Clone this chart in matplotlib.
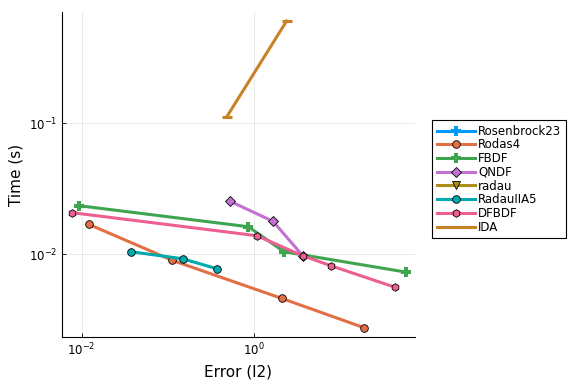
import matplotlib
matplotlib.use("Agg")
import matplotlib.pyplot as plt
import numpy as np

names = ["Rosenbrock23", "Rodas4", "FBDF", "QNDF", "radau", "RadauIIA5", "DFBDF", "IDA"]
colors = ["#009AFA", "#E36F47", "#3EA44E", "#C371D2", "#AC8E18", "#00AAAE", "#ED5E93", "#C68225"]
markers = ["P", "o", "P", "D", "v", "o", "h", "_"]

err_rosenbrock23 = []
time_rosenbrock23 = []
err_rodas4 = [0.0122, 0.112, 2.08, 18.8]
time_rodas4 = [0.0169, 0.0090, 0.00461, 0.00275]
err_fbdf = [0.00938, 0.852, 2.21, 56.8]
time_fbdf = [0.0235, 0.01625, 0.01047, 0.00732]
err_qndf = [0.519, 1.65, 3.64]
time_qndf = [0.0255, 0.01786, 0.00976]
err_radau = []
time_radau = []
err_radauiia5 = [0.0373, 0.148, 0.367]
time_radauiia5 = [0.01047, 0.00925, 0.00777]
err_dfbdf = [0.00778, 1.07, 3.64, 7.74, 42.4]
time_dfbdf = [0.0208, 0.01387, 0.00976, 0.00818, 0.00562]
err_ida = [0.479, 2.37]
time_ida = [0.112, 0.604]

errs = [err_rosenbrock23, err_rodas4, err_fbdf, err_qndf, err_radau, err_radauiia5, err_dfbdf, err_ida]
times = [time_rosenbrock23, time_rodas4, time_fbdf, time_qndf, time_radau, time_radauiia5, time_dfbdf, time_ida]

fig = plt.figure(figsize=(5.76, 3.84), dpi=100)
ax = fig.add_axes([62/576, 1 - 337/384, (415 - 62)/576, (337 - 12)/384])

for name, c, m, x, y in zip(names, colors, markers, errs, times):
    if m in ("P",):
        kw = dict(markersize=6.5, markeredgewidth=0, markerfacecolor=c)
    elif m == "_":
        kw = dict(markersize=7, markeredgewidth=2.2, markeredgecolor=c)
    else:
        kw = dict(markersize=5.5, markeredgewidth=0.6, markeredgecolor="black", markerfacecolor=c)
    ax.plot(x, y, color=c, lw=2.2, marker=m, label=name, **kw)

ax.set_xscale("log")
ax.set_yscale("log")
ax.set_xlim(10**-2.228, 10**1.862)
ax.set_ylim(10**-2.631, 10**-0.150)
ax.set_xticks([1e-2, 1e0])
ax.set_yticks([1e-2, 1e-1])
ax.minorticks_off()
ax.tick_params(direction="in", length=3, width=0.6, labelsize=8.5, color="black")
ax.grid(True, color="#e6e6e6", lw=0.6)
ax.set_axisbelow(True)
for s in ["top", "right"]:
    ax.spines[s].set_visible(False)
for s in ["left", "bottom"]:
    ax.spines[s].set_linewidth(0.8)
ax.set_xlabel("Error (l2)", fontsize=11)
ax.set_ylabel("Time (s)", fontsize=11)

leg = ax.legend(loc="upper left", bbox_to_anchor=(432/576, 1 - 120/384), bbox_transform=fig.transFigure,
                fontsize=8.5, frameon=True, fancybox=False, edgecolor="black", framealpha=1,
                handlelength=3.2, handletextpad=0.3, borderpad=0.4, labelspacing=0.06, borderaxespad=0)
leg.get_frame().set_linewidth(0.8)

fig.savefig("out.png", dpi=100)
